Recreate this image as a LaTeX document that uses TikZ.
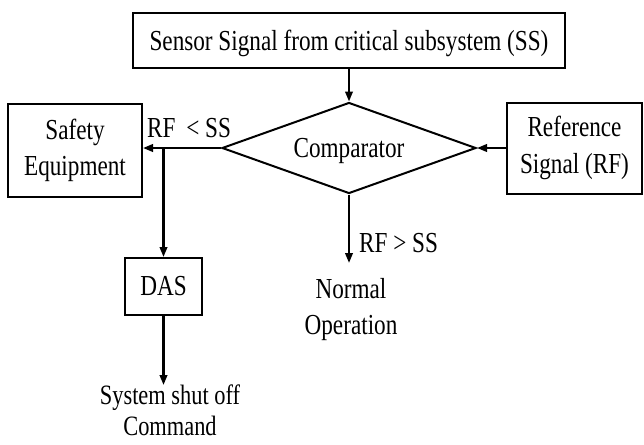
\documentclass[tikz,border=0pt]{standalone}
\usepackage{fontspec}
\setmainfont{Liberation Serif}[FakeStretch=0.8]
\usetikzlibrary{shapes.geometric,arrows.meta}
\begin{document}
\begin{tikzpicture}[x=1pt,y=-1pt,
  every node/.style={font=\fontsize{29}{36.5}\selectfont, inner sep=0pt},
  box/.style={draw, line width=2pt, rectangle, align=center},
  diam/.style={draw, line width=2pt, diamond, aspect=2.79, minimum width=254pt, minimum height=91pt, text depth=0pt},
  conn/.style={line width=2.2pt, -{Triangle[length=10pt,width=7.5pt]}},
  lbl/.style={anchor=base west},
  txt/.style={align=center, anchor=north}]
\useasboundingbox (0,0) rectangle (644,444);
\node[box, minimum width=432pt, minimum height=55pt, text depth=0pt] (ss) at (349,40.5) {Sensor Signal from critical subsystem (SS)};
\node[diam] (comp) at (349,148) {Comparator};
\node[box, minimum width=134pt, minimum height=93pt] (safe) at (75,150.5) {Safety\\Equipment};
\node[box, minimum width=135pt, minimum height=91pt] (ref) at (574.5,148) {Reference\\Signal (RF)};
\node[box, minimum width=77pt, minimum height=57pt] (das) at (163.5,286.5) {DAS};
\node[txt] (norm) at (351,278) {Normal\\Operation};
\node[txt, font=\fontsize{28}{31}\selectfont] (shut) at (170,385) {System shut off\\Command};
\node[lbl] (lt) at (147,137) {RF\hspace{5pt} < SS};
\node[lbl] (gt) at (359,252) {RF > SS};
\coordinate (nend) at (349,263);
\draw[conn] (ss) -- (comp);
\draw[conn] (ref.west) -- (comp.east);
\draw[conn] (comp.west) -- (comp.west -| safe.east);
\draw[conn] (das.north |- comp.west) -- (das.north);
\draw[conn] (das.south) -- (das.south |- shut.north);
\draw[conn] (comp.south) -- (nend);
\end{tikzpicture}
\end{document}
